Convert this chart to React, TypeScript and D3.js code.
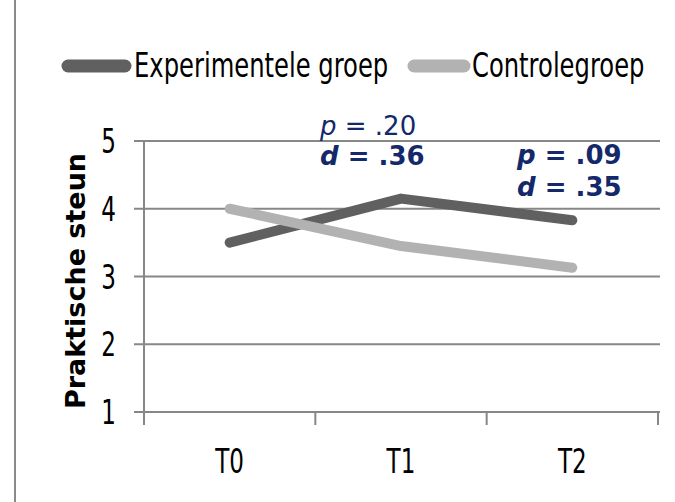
import React from "react";
import * as d3 from "d3";

const categories = ["T0", "T1", "T2"];
const seriesNames = ["Experimentele groep", "Controlegroep"];
const experimentele = [3.5, 4.15, 3.83];
const controle = [4.0, 3.45, 3.13];
const yTicks = [1, 2, 3, 4, 5];
const yLabel = "Praktische steun";

const W = 675;
const H = 502;
const FONT = "'DejaVu Sans', sans-serif";
const NAVY = "#13296a";
const DARK = "#606060";
const LIGHT = "#b2b2b2";
const GRID = "#878787";

function NarrowText(props: {
  x: number;
  y: number;
  anchor?: "start" | "middle" | "end";
  size?: number;
  sx?: number;
  children: React.ReactNode;
}) {
  const { x, y, anchor = "start", size = 33, sx = 0.7, children } = props;
  return (
    <text
      transform={`translate(${x},${y}) scale(${sx},1)`}
      textAnchor={anchor}
      fontFamily={FONT}
      fontSize={size}
      fill="#000"
    >
      {children}
    </text>
  );
}

export default function App() {
  const x0 = 144, x1 = 658;
  const y = d3.scaleLinear().domain([1, 5]).range([412, 141]);
  const band = d3.scaleBand().domain(categories).range([x0, x1]);
  const xc = (c: string) => (band(c) as number) + band.bandwidth() / 2;
  const line = d3
    .line<number>()
    .x((_, i) => xc(categories[i]))
    .y((d) => y(d));
  const series = [
    { name: seriesNames[0], values: experimentele, color: DARK },
    { name: seriesNames[1], values: controle, color: LIGHT },
  ];
  const tickXs = categories.map((c) => (band(c) as number) + band.bandwidth());

  return (
    <svg
      width={W}
      height={H}
      style={{ position: "absolute", left: 0, top: 0, background: "#fff" }}
    >
      <rect x={0} y={0} width={W} height={H} fill="#fff" />
      <line x1={15} x2={15} y1={0} y2={H} stroke="#8a8a8a" strokeWidth={2} />

      {/* Legend */}
      <g>
        <line x1={68} x2={125} y1={66} y2={66} stroke={DARK} strokeWidth={13} strokeLinecap="round" />
        <NarrowText x={134} y={77} sx={0.735}>{series[0].name}</NarrowText>
        <line x1={414} x2={464} y1={66} y2={66} stroke={LIGHT} strokeWidth={13} strokeLinecap="round" />
        <NarrowText x={472} y={77} sx={0.735}>{series[1].name}</NarrowText>
      </g>

      {/* Gridlines and y ticks */}
      {yTicks.map((t) => (
        <g key={t}>
          <line x1={134} x2={x1 + 2} y1={y(t)} y2={y(t)} stroke={GRID} strokeWidth={2} />
          <NarrowText x={116} y={y(t) + 12} anchor="end">
            {t}
          </NarrowText>
        </g>
      ))}
      <line x1={x0} x2={x0} y1={y(5)} y2={y(1) + 13} stroke={GRID} strokeWidth={2} />
      {tickXs.map((tx, i) => (
        <line key={i} x1={tx} x2={tx} y1={y(1)} y2={y(1) + 13} stroke={GRID} strokeWidth={2} />
      ))}

      {/* X labels */}
      {categories.map((c) => (
        <NarrowText key={c} x={xc(c)} y={473} anchor="middle">
          {c}
        </NarrowText>
      ))}

      {/* Y label */}
      <text
        transform={`translate(85, 281) rotate(-90)`}
        textAnchor="middle"
        fontFamily={FONT}
        fontWeight="bold"
        fontSize={27}
        fill="#000"
      >
        {yLabel}
      </text>

      {/* Lines */}
      {series.map((s) => (
        <path
          key={s.name}
          d={line(s.values) || ""}
          fill="none"
          stroke={s.color}
          strokeWidth={10}
          strokeLinecap="round"
          strokeLinejoin="round"
        />
      ))}

      {/* Annotations */}
      <g fontFamily={FONT} fontSize={26} fill={NAVY}>
        <text x={320} y={135}>
          <tspan fontStyle="italic">p</tspan> = .20
        </text>
        <text x={320} y={165} fontWeight="bold">
          <tspan fontStyle="italic">d</tspan> = .36
        </text>
        <text x={517} y={164} fontWeight="bold">
          <tspan fontStyle="italic">p</tspan> = .09
        </text>
        <text x={517} y={196} fontWeight="bold">
          <tspan fontStyle="italic">d</tspan> = .35
        </text>
      </g>
    </svg>
  );
}
